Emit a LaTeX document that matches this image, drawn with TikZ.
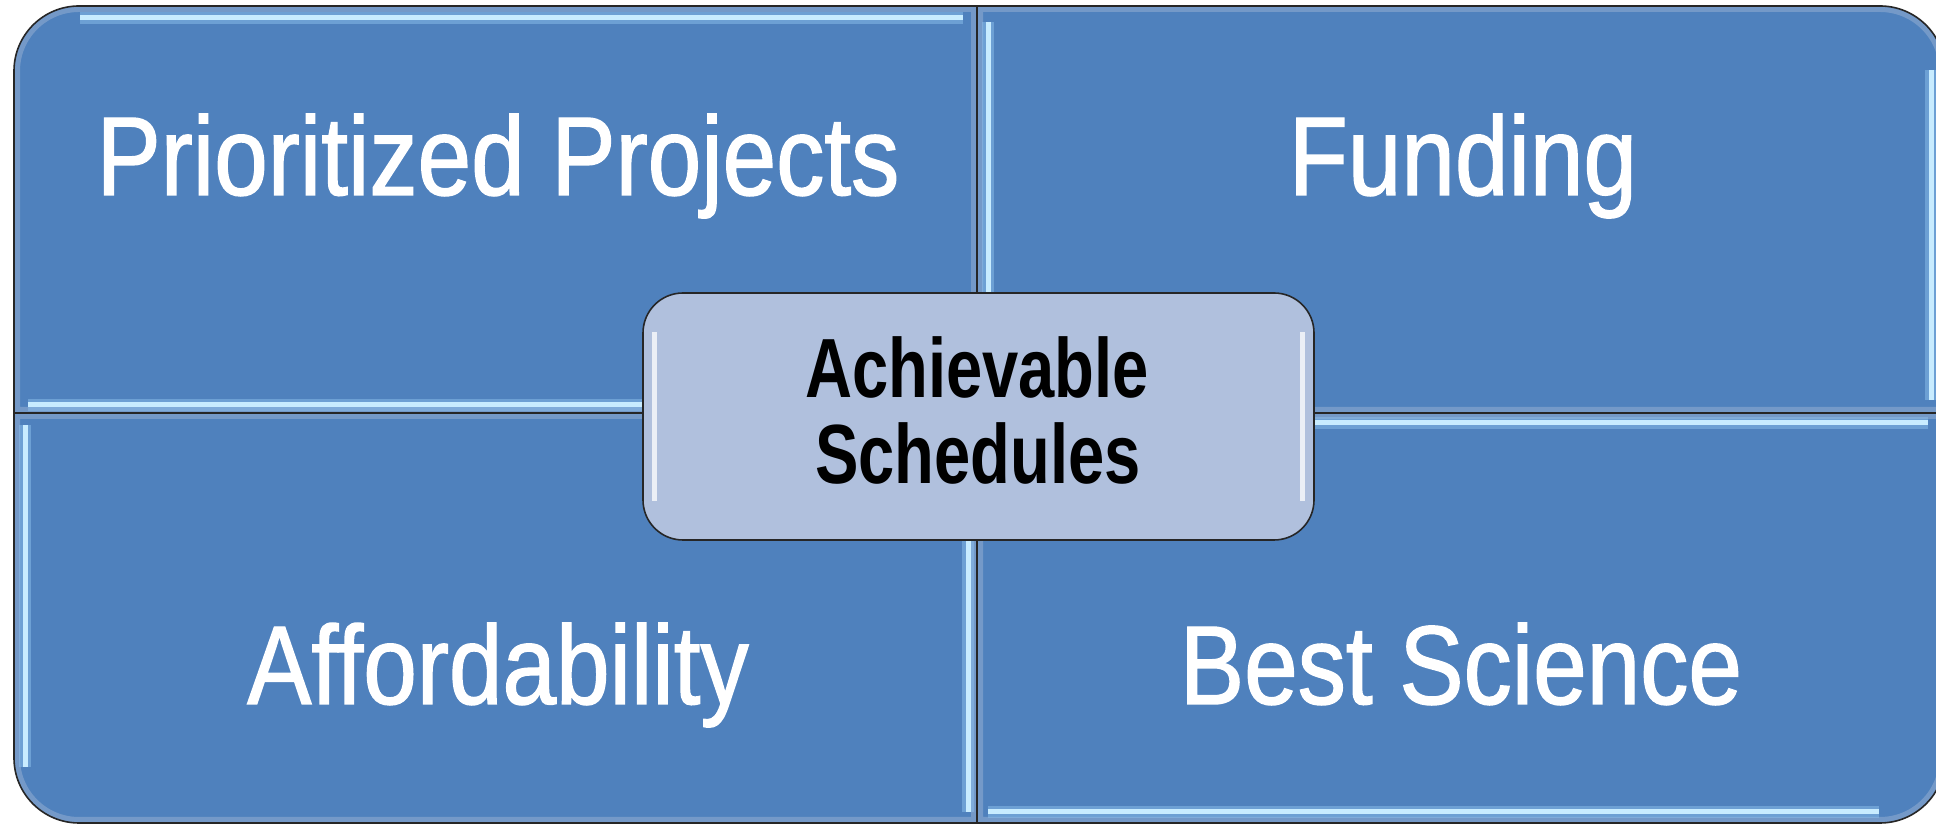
\documentclass[tikz,border=0pt]{standalone}
\usepackage{fontspec}
\newfontfamily\quadfont{Liberation Sans}[FakeStretch=0.86,FakeBold=1.2]
\newfontfamily\boxfont{Liberation Sans}[FakeStretch=0.775]
\definecolor{quadblue}{HTML}{4F81BD}
\definecolor{boxblue}{HTML}{B0C0DD}
\definecolor{hilite}{HTML}{C8ECFF}
\definecolor{hiliteglow}{HTML}{8CC0EC}
\definecolor{rimcol}{HTML}{A3B8D6}
\newcommand\drawquad[1]{%
  \fill[quadblue] #1;
  \begin{scope}\clip #1; \draw[rimcol, line width=12pt, opacity=0.45] #1;\end{scope}}
\begin{document}
\begin{tikzpicture}[x=1pt,y=1pt,
  outline/.style={draw=black!85, line width=1.6pt},
  glow/.style={hiliteglow, line width=12pt, opacity=0.5},
  shine/.style={hilite, line width=5pt},
  quadtext/.style={text=white, font=\quadfont\fontsize{112}{112}\selectfont, anchor=base, inner sep=0pt},
  boxtext/.style={text=black, font=\boxfont\bfseries\fontsize{84}{86}\selectfont, anchor=base, inner sep=0pt},
  centerbox/.style={fill=boxblue, draw=black!85, line width=1.6pt, rounded corners=40pt,
    minimum width=671pt, minimum height=247pt, inner sep=0pt},
  boxshine/.style={white, line width=5pt, opacity=0.75}
]
\useasboundingbox (0,0) rectangle (1936,826);
\clip (0,0) rectangle (1936,826);
\fill[white] (0,0) rectangle (1936,826);

% quadrant fills
\drawquad{(977,413) -- (14,413) -- (14,755) arc[start angle=180,end angle=90,radius=65] -- (977,820) -- cycle}
\drawquad{(977,413) -- (977,820) -- (1880,820) arc[start angle=90,end angle=0,radius=65] -- (1945,413) -- cycle}
\drawquad{(977,413) -- (14,413) -- (14,68) arc[start angle=180,end angle=270,radius=65] -- (977,3) -- cycle}
\drawquad{(977,413) -- (1945,413) -- (1945,68) arc[start angle=0,end angle=-90,radius=65] -- (977,3) -- cycle}

% bevel highlights
\foreach \a/\b in {{(80,808)}/{(963,808)}, {(28,421)}/{(966,421)},
                   {(988,804)}/{(988,420)}, {(1931,756)}/{(1931,426)},
                   {(25,401)}/{(25,59)}, {(968,405)}/{(968,14)},
                   {(990,403)}/{(1928,403)}, {(988,14)}/{(1879,14)}}{
  \draw[glow] \a -- \b;
  \draw[shine] \a -- \b;
}

% quadrant outlines
\draw[outline] (977,413) -- (14,413) -- (14,755) arc[start angle=180,end angle=90,radius=65] -- (977,820) -- cycle;
\draw[outline] (977,413) -- (977,820) -- (1880,820) arc[start angle=90,end angle=0,radius=65] -- (1945,413) -- cycle;
\draw[outline] (977,413) -- (14,413) -- (14,68) arc[start angle=180,end angle=270,radius=65] -- (977,3) -- cycle;
\draw[outline] (977,413) -- (1945,413) -- (1945,68) arc[start angle=0,end angle=-90,radius=65] -- (977,3) -- cycle;

% center box
\node[centerbox] (core) at (978.5,409.5) {};
\draw[boxshine] ([xshift=12pt,yshift=-40pt]core.north west) -- ([xshift=12pt,yshift=40pt]core.south west);
\draw[boxshine] ([xshift=-12pt,yshift=-40pt]core.north east) -- ([xshift=-12pt,yshift=40pt]core.south east);

% texts
\node[quadtext] (pp) at (498,631) {Prioritized Projects};
\node[quadtext] (fund) at (1463,631) {Funding};
\node[quadtext] (afford) at (498,122) {Affordability};
\node[quadtext] (best) at (1461,122) {Best Science};
\node[boxtext] (ach) at (977,428) {Achievable};
\node[boxtext] (sched) at (978,342) {Schedules};
\end{tikzpicture}
\end{document}
